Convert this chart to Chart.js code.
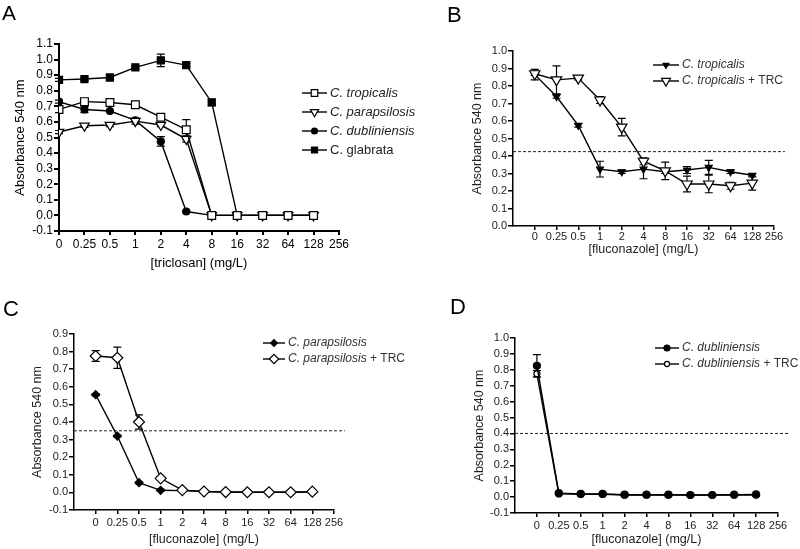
<!DOCTYPE html>
<html lang="en">
<head>
<meta charset="utf-8">
<script src="https://cdn.jsdelivr.net/npm/chart.js@4.4.0/dist/chart.umd.min.js"></script>
<title>Absorbance vs triclosan / fluconazole</title>
<style>
body { margin: 0; background: #fff; width: 800px; height: 549px; position: relative; overflow: hidden;
       font-family: "Liberation Sans", Arial, sans-serif; }
canvas { position: absolute; }
.tag { position: absolute; line-height: 1; font-size: 22px; color: #000; }
</style>
</head>
<body>
<canvas id="cA" width="440" height="275" style="left:0;top:0"></canvas>
<canvas id="cB" width="400" height="275" style="left:400px;top:0"></canvas>
<canvas id="cC" width="440" height="274" style="left:0;top:275px"></canvas>
<canvas id="cD" width="400" height="274" style="left:400px;top:275px"></canvas>
<div class="tag" style="left:2px;top:2px;font-size:21px">A</div>
<div class="tag" style="left:447px;top:4px">B</div>
<div class="tag" style="left:3px;top:298px">C</div>
<div class="tag" style="left:450px;top:296px">D</div>
<script>
var doses = ['0', '0.25', '0.5', '1', '2', '4', '8', '16', '32', '64', '128', '256'];

// A: triclosan
var aTropicalis     = [0.68, 0.73, 0.725, 0.71, 0.63, 0.55, 0, 0, 0, 0, 0];
var aTropicalisErr  = [0.02, 0.01, 0.01, 0.01, 0.01, 0.065, 0.01, 0.01, 0.01, 0.01, 0.01];
var aParapsilosis   = [0.535, 0.575, 0.58, 0.605, 0.58, 0.49, 0, 0, 0, 0, 0];
var aParapsilosisErr = [0.01, 0.01, 0.01, 0.02, 0.01, 0.02, 0.01, 0.01, 0.01, 0.01, 0.01];
var aDubliniensis   = [0.73, 0.68, 0.67, 0.61, 0.475, 0.025, 0, 0, 0, 0, 0];
var aDubliniensisErr = [0.01, 0.02, 0.005, 0.01, 0.03, 0.005, 0.005, 0.005, 0.005, 0.005, 0.005];
var aGlabrata       = [0.87, 0.875, 0.885, 0.95, 0.995, 0.965, 0.725, 0, 0, 0, 0];
var aGlabrataErr    = [0.01, 0.01, 0.015, 0.01, 0.04, 0.01, 0.02, 0.01, 0.01, 0.01, 0.01];

// B: fluconazole, C. tropicalis
var bTropicalis    = [0.865, 0.74, 0.575, 0.325, 0.31, 0.325, 0.31, 0.32, 0.335, 0.31, 0.29];
var bTropicalisErr = [0.03, 0.01, 0.01, 0.045, 0.01, 0.055, 0.01, 0.02, 0.04, 0.01, 0.01];
var bTrc           = [0.87, 0.835, 0.845, 0.72, 0.565, 0.37, 0.315, 0.24, 0.24, 0.23, 0.245];
var bTrcErr        = [0.01, 0.08, 0.01, 0.02, 0.05, 0.02, 0.05, 0.045, 0.05, 0.02, 0.04];
var bThreshold = 0.425;

// C: fluconazole, C. parapsilosis
var cParapsilosis    = [0.555, 0.32, 0.055, 0.012, 0.01, 0.005, 0.002, 0.001, 0.001, 0.001, 0.003];
var cParapsilosisErr = [0.005, 0.005, 0.005, 0.005, 0.005, 0.005, 0.005, 0.005, 0.005, 0.005, 0.005];
var cTrc             = [0.775, 0.765, 0.40, 0.08, 0.013, 0.005, 0.002, 0.001, 0.001, 0.001, 0.004];
var cTrcErr          = [0.03, 0.06, 0.04, 0.01, 0.005, 0.005, 0.005, 0.005, 0.005, 0.005, 0.005];
var cThreshold = 0.35;

// D: fluconazole, C. dubliniensis
var dDubliniensis    = [0.825, 0.025, 0.02, 0.02, 0.015, 0.015, 0.015, 0.013, 0.013, 0.015, 0.017];
var dDubliniensisErr = [0.07, 0.005, 0.005, 0.005, 0.005, 0.005, 0.005, 0.005, 0.005, 0.005, 0.005];
var dTrc             = [0.775, 0.02, 0.018, 0.018, 0.013, 0.013, 0.013, 0.013, 0.013, 0.013, 0.013];
var dTrcErr          = [0.02, 0.005, 0.005, 0.005, 0.005, 0.005, 0.005, 0.005, 0.005, 0.005, 0.005];
var dThreshold = 0.40;

var FONT = '"Liberation Sans", Arial, sans-serif';

function pts(vals) {
    return vals.map(function (v, i) { return { x: i, y: v }; });
}

// order: lower value is painted on top
function series(vals, errs, parts, style, filled, r, rot, order) {
    return {
        data: pts(vals), errors: errs, parts: parts, order: order || 1,
        borderColor: '#000', borderWidth: 1.4,
        pointStyle: style, pointRadius: r, pointRotation: rot || 0,
        pointBackgroundColor: filled ? '#000' : '#fff',
        pointBorderColor: '#000', pointBorderWidth: 1.2,
        tension: 0
    };
}

function cutoff(y) {
    return {
        data: [{ x: -1, y: y }, { x: 11.5, y: y }], order: 5,
        borderColor: '#222', borderWidth: 1, borderDash: [3, 2],
        pointRadius: 0, clip: false
    };
}

// vertical error bars with caps
var errorBars = {
    id: 'errorBars',
    beforeDatasetsDraw: function (chart) {
        var ctx = chart.ctx, sx = chart.scales.x, sy = chart.scales.y;
        chart.data.datasets.forEach(function (ds) {
            if (!ds.errors) return;
            ctx.save();
            ctx.strokeStyle = '#000';
            ctx.lineWidth = 1.2;
            ds.data.forEach(function (p, i) {
                var e = ds.errors[i];
                if (!e) return;
                var px = sx.getPixelForValue(p.x);
                var lo = sy.getPixelForValue(p.y - e), hi = sy.getPixelForValue(p.y + e);
                ctx.beginPath();
                ctx.moveTo(px, lo); ctx.lineTo(px, hi);
                ctx.moveTo(px - 4, lo); ctx.lineTo(px + 4, lo);
                ctx.moveTo(px - 4, hi); ctx.lineTo(px + 4, hi);
                ctx.stroke();
            });
            ctx.restore();
        });
    }
};

// legend with italic species names
var sideLegend = {
    id: 'sideLegend',
    afterDraw: function (chart, args, o) {
        var ctx = chart.ctx;
        var items = chart.data.datasets.filter(function (d) { return d.parts; });
        items.forEach(function (ds, k) {
            var yy = o.y + k * o.gap;
            ctx.save();
            ctx.strokeStyle = '#000';
            ctx.lineWidth = ds.borderWidth;
            ctx.beginPath();
            ctx.moveTo(o.x, yy); ctx.lineTo(o.x + o.w, yy);
            ctx.stroke();
            ctx.fillStyle = ds.pointBackgroundColor;
            ctx.lineWidth = ds.pointBorderWidth;
            Chart.helpers.drawPoint(ctx, {
                pointStyle: ds.pointStyle, rotation: ds.pointRotation,
                radius: ds.pointRadius * 0.85, borderWidth: ds.pointBorderWidth
            }, o.x + o.w / 2, yy);
            var tx = o.x + o.w + 3;
            ctx.textBaseline = 'middle';
            ctx.fillStyle = o.color;
            ds.parts.forEach(function (p) {
                ctx.font = (p[1] ? 'italic ' : '') + o.size + 'px ' + FONT;
                ctx.fillText(p[0], tx, yy);
                tx += ctx.measureText(p[0]).width;
            });
            ctx.restore();
        });
    }
};

function panel(id, c) {
    var lh = c.titleSize * 1.2;
    var leftEdge = c.yTitleX - lh / 2;
    var bottomEdge = c.xTitleY + lh / 2;
    var axisColor = '#000';
    return new Chart(document.getElementById(id), {
        type: 'line',
        data: { datasets: c.datasets },
        options: {
            responsive: false,
            animation: false,
            layout: { padding: { left: leftEdge, top: c.area[2], right: c.w - c.area[1], bottom: c.h - bottomEdge } },
            plugins: { legend: { display: false }, tooltip: { enabled: false }, sideLegend: c.legend },
            scales: {
                x: {
                    type: 'linear', min: c.xMin, max: 11,
                    afterFit: function (s) { s.height = bottomEdge - c.area[3]; },
                    afterBuildTicks: function (s) { s.ticks = s.ticks.filter(function (t) { return t.value >= 0; }); },
                    ticks: {
                        stepSize: 1, autoSkip: false, maxRotation: 0, padding: c.xPad,
                        color: c.tickColor, font: { family: FONT, size: c.tickSize },
                        callback: function (v) { return doses[v]; }
                    },
                    grid: { drawOnChartArea: false, tickLength: 4, color: axisColor, lineWidth: c.axisWidth },
                    border: { color: axisColor, width: c.axisWidth },
                    title: { display: true, text: c.xTitle, padding: 0, color: c.tickColor, font: { family: FONT, size: c.titleSize } }
                },
                y: {
                    min: c.yMin, max: c.yMax,
                    afterFit: function (s) { s.width = c.area[0] - leftEdge; },
                    ticks: {
                        stepSize: 0.1, padding: 1, autoSkip: false,
                        color: c.tickColor, font: { family: FONT, size: c.tickSize },
                        callback: function (v) { return v.toFixed(1); }
                    },
                    grid: { drawOnChartArea: false, tickLength: 5, color: axisColor, lineWidth: c.axisWidth },
                    border: { color: axisColor, width: c.axisWidth },
                    title: { display: true, text: 'Absorbance 540 nm', padding: 0, color: c.tickColor, font: { family: FONT, size: c.titleSize } }
                }
            }
        },
        plugins: [errorBars, sideLegend]
    });
}

panel('cA', {
    w: 440, h: 275, area: [59, 339, 44, 231], yTitleX: 20, xTitleY: 263,
    titleSize: 13, tickSize: 12, tickColor: '#000', axisWidth: 2, xPad: 2,
    xMin: 0, yMin: -0.1, yMax: 1.1, xTitle: '[triclosan] (mg/L)',
    legend: { x: 302, w: 25, y: 93, gap: 19, size: 13, color: '#222' },
    datasets: [
        series(aTropicalis, aTropicalisErr, [['C. tropicalis', true]], 'rect', false, 5.5, 0, 1),
        series(aParapsilosis, aParapsilosisErr, [['C. parapsilosis', true]], 'triangle', false, 5.5, 180, 2),
        series(aDubliniensis, aDubliniensisErr, [['C. dubliniensis', true]], 'circle', true, 3.5, 0, 3),
        series(aGlabrata, aGlabrataErr, [['C. glabrata', false]], 'rect', true, 5, 0, 4)
    ]
});

panel('cB', {
    w: 400, h: 275, area: [113, 374, 51, 226], yTitleX: 78, xTitleY: 250,
    titleSize: 12.5, tickSize: 11, tickColor: '#222', axisWidth: 1.5, xPad: 0,
    xMin: -1, yMin: 0, yMax: 1.0, xTitle: '[fluconazole] (mg/L)',
    legend: { x: 253, w: 26, y: 65, gap: 16, size: 12, color: '#333' },
    datasets: [
        cutoff(bThreshold),
        series(bTropicalis, bTropicalisErr, [['C. tropicalis', true]], 'triangle', true, 4, 180, 2),
        series(bTrc, bTrcErr, [['C. tropicalis', true], [' + TRC', false]], 'triangle', false, 6, 180, 1)
    ]
});

panel('cC', {
    w: 440, h: 274, area: [74, 334, 59, 235], yTitleX: 38, xTitleY: 265,
    titleSize: 12.5, tickSize: 11, tickColor: '#222', axisWidth: 1.5, xPad: 2,
    xMin: -1, yMin: -0.1, yMax: 0.9, xTitle: '[fluconazole] (mg/L)',
    legend: { x: 263, w: 22, y: 68, gap: 16, size: 12, color: '#333' },
    datasets: [
        cutoff(cThreshold),
        series(cParapsilosis, cParapsilosisErr, [['C. parapsilosis', true]], 'rectRot', true, 4, 0, 2),
        series(cTrc, cTrcErr, [['C. parapsilosis', true], [' + TRC', false]], 'rectRot', false, 5.5, 0, 1)
    ]
});

panel('cD', {
    w: 400, h: 274, area: [115, 378, 63, 238], yTitleX: 80, xTitleY: 265,
    titleSize: 12.5, tickSize: 11, tickColor: '#222', axisWidth: 1.5, xPad: 2,
    xMin: -1, yMin: -0.1, yMax: 1.0, xTitle: '[fluconazole] (mg/L)',
    legend: { x: 255, w: 24, y: 73, gap: 16, size: 12, color: '#333' },
    datasets: [
        cutoff(dThreshold),
        series(dDubliniensis, dDubliniensisErr, [['C. dubliniensis', true]], 'circle', true, 3.5, 0, 1),
        series(dTrc, dTrcErr, [['C. dubliniensis', true], [' + TRC', false]], 'circle', false, 3, 0, 2)
    ]
});
</script>
</body>
</html>
